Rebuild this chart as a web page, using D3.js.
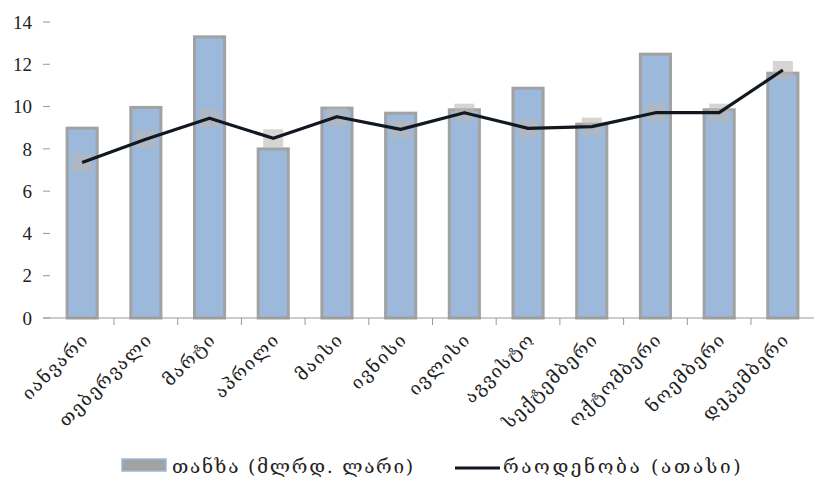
<!DOCTYPE html>
<html>
<head>
<meta charset="utf-8">
<script src="https://cdn.jsdelivr.net/npm/d3@7"></script>
<style>
  html, body { margin: 0; padding: 0; background: #fff; }
  svg { display: block; }
</style>
</head>
<body>
<svg id="chart" width="815" height="484"></svg>
<script>
const months = ["იანვარი","თებერვალი","მარტი","აპრილი","მაისი","ივნისი","ივლისი","აგვისტო","სექტემბერი","ოქტომბერი","ნოემბერი","დეკემბერი"];
const amount = [9.05, 10.03, 13.37, 8.07, 10.0, 9.76, 9.92, 10.94, 9.24, 12.55, 9.92, 11.65];
const count = [7.35, 8.45, 9.45, 8.5, 9.52, 8.92, 9.71, 8.97, 9.05, 9.71, 9.71, 11.73];
const yTicks = [0, 2, 4, 6, 8, 10, 12, 14];
const legendLabels = ["თანხა (მლრდ. ლარი)", "რაოდენობა (ათასი)"];

const svg = d3.select("#chart");
const geoFont = "'DejaVu Serif', 'DejaVu Sans', serif";
const numFont = "'Liberation Serif', 'DejaVu Serif', serif";

const x = d3.scaleBand().domain(months).range([50.3, 814.7]).paddingInner(0.48).paddingOuter(0.24);
const y = d3.scaleLinear().domain([0, 14]).range([318, 22]);
const center = m => x(m) + x.bandwidth() / 2;

// Y axis ticks and labels
const yAxis = svg.append("g");
yAxis.selectAll("line").data(yTicks).join("line")
  .attr("x1", 43).attr("x2", 50)
  .attr("y1", d => y(d)).attr("y2", d => y(d))
  .attr("stroke", "#999").attr("stroke-width", 1);
yAxis.selectAll("text").data(yTicks).join("text")
  .attr("x", 32).attr("y", d => y(d)).attr("dy", "0.35em")
  .attr("text-anchor", "end")
  .attr("font-family", numFont).attr("font-size", 19).attr("fill", "#222")
  .text(d => d);

// Bars
svg.append("g").selectAll("rect").data(amount).join("rect")
  .attr("x", (d, i) => x(months[i]) + 1.5)
  .attr("y", d => y(d) + 1.5)
  .attr("width", x.bandwidth() - 3)
  .attr("height", d => y(0) - y(d) - 1.5)
  .attr("fill", "#9cb8da")
  .attr("stroke", "#a2a2a2").attr("stroke-width", 3);

// X axis line and category ticks
svg.append("line").attr("x1", 43).attr("x2", 814).attr("y1", y(0)).attr("y2", y(0))
  .attr("stroke", "#999").attr("stroke-width", 1);
svg.append("g").selectAll("line").data(months.slice(1)).join("line")
  .attr("x1", d => x(d) - x.step() * x.paddingInner() / 2)
  .attr("x2", d => x(d) - x.step() * x.paddingInner() / 2)
  .attr("y1", y(0)).attr("y2", y(0) + 7)
  .attr("stroke", "#999").attr("stroke-width", 1);

// Markers (faint gray squares)
svg.append("g").selectAll("rect").data(count).join("rect")
  .attr("x", (d, i) => center(months[i]) - 10)
  .attr("y", d => y(d) - 9)
  .attr("width", 20).attr("height", 18)
  .attr("fill", "#bdb7b2").attr("opacity", 0.6);

// Line
const line = d3.line().x((d, i) => center(months[i])).y(d => y(d));
svg.append("path").datum(count).attr("d", line)
  .attr("fill", "none").attr("stroke", "#111820").attr("stroke-width", 3.2)
  .attr("stroke-linejoin", "round");

// X labels
svg.append("g").selectAll("text").data(months).join("text")
  .attr("transform", d => `translate(${center(d) + 3},${y(0) + 18}) rotate(-45)`)
  .attr("text-anchor", "end").attr("dy", "0.35em")
  .attr("font-family", geoFont).attr("font-size", 18).attr("letter-spacing", 1.5).attr("fill", "#222")
  .text(d => d);

// Legend
const lg = svg.append("g");
lg.append("rect").attr("x", 122).attr("y", 459).attr("width", 44).attr("height", 12)
  .attr("fill", "#a2a2a2").attr("stroke", "#9cb8da").attr("stroke-width", 1.5);
lg.append("text").attr("x", 172).attr("y", 466).attr("dy", "0.35em")
  .attr("font-family", geoFont).attr("font-size", 19).attr("letter-spacing", 1.7).attr("fill", "#222")
  .text(legendLabels[0]);
lg.append("line").attr("x1", 455).attr("x2", 500).attr("y1", 468).attr("y2", 468)
  .attr("stroke", "#111820").attr("stroke-width", 3.2);
lg.append("text").attr("x", 503).attr("y", 466).attr("dy", "0.35em")
  .attr("font-family", geoFont).attr("font-size", 19).attr("letter-spacing", 2.6).attr("fill", "#222")
  .text(legendLabels[1]);
</script>
</body>
</html>
